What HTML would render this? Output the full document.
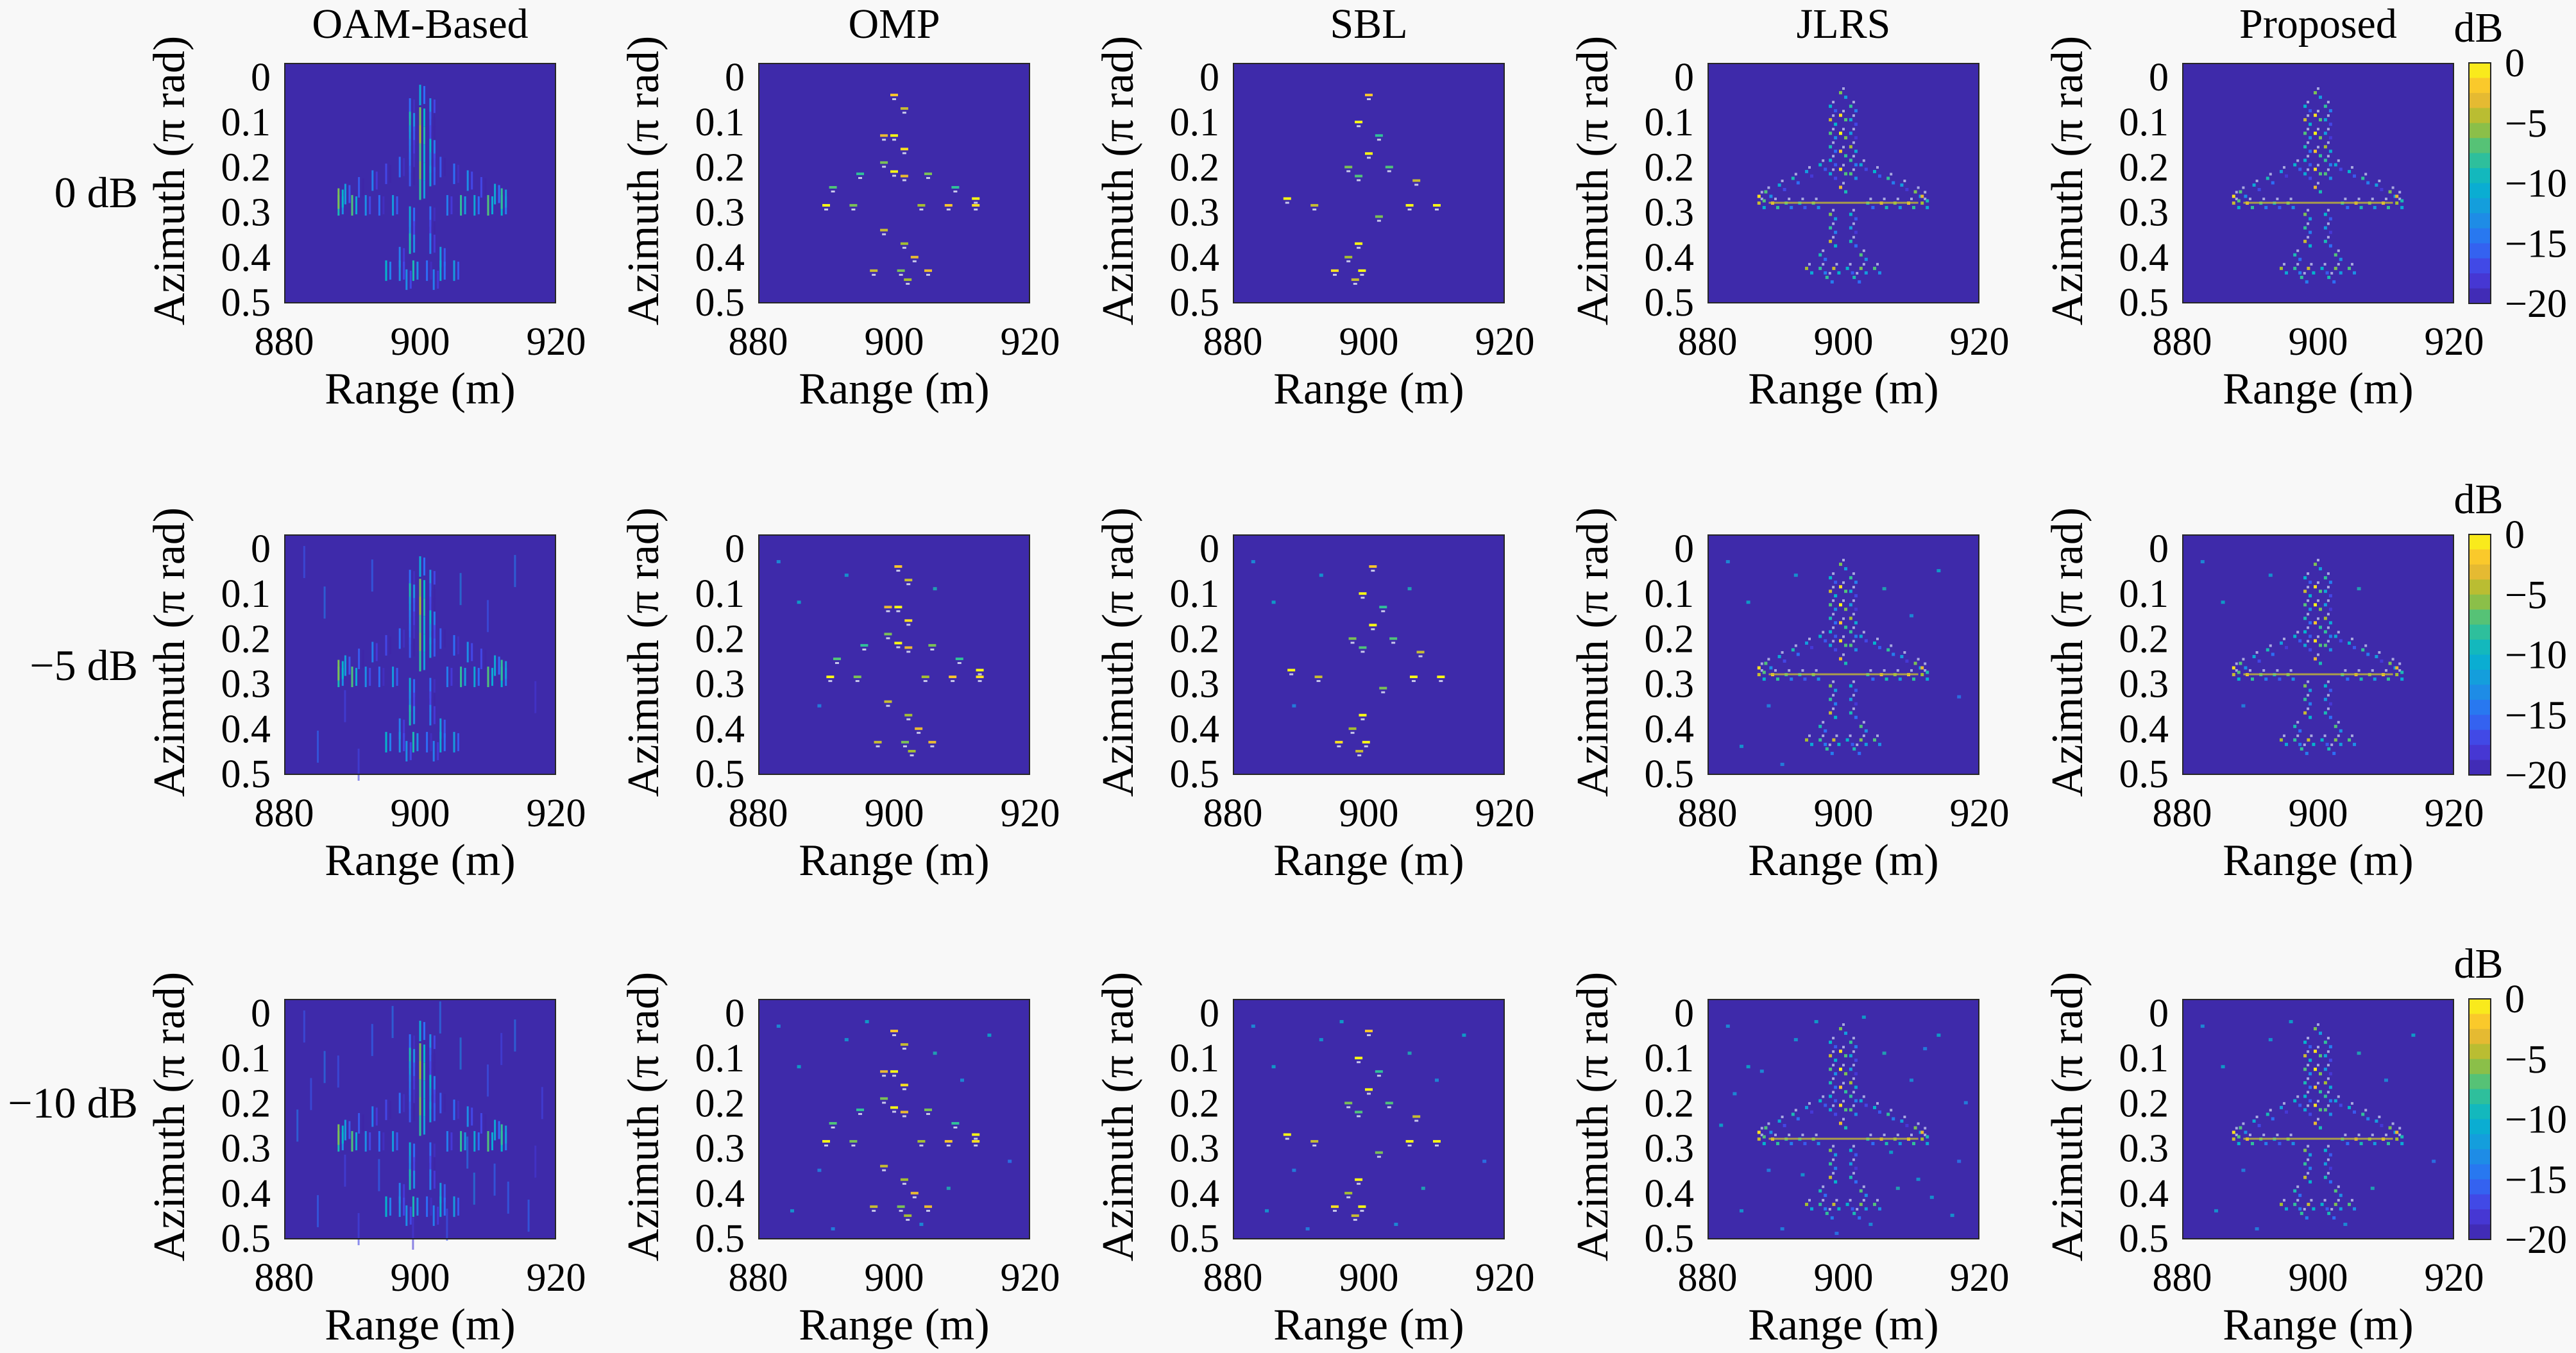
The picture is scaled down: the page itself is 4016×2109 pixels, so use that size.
<!DOCTYPE html>
<html><head><meta charset="utf-8"><style>
html,body{margin:0;padding:0;background:#f8f8f8;}
svg{display:block;}
svg text{font-family:"Liberation Serif","DejaVu Serif",serif;}
</style></head><body>
<svg id="fig" width="4016" height="2109" viewBox="0 0 4016 2109" xmlns="http://www.w3.org/2000/svg" font-family="Liberation Serif, DejaVu Serif, serif">
<rect width="4016" height="2109" fill="#f8f8f8"/>
</svg>
<script>
const methods = ['OAM-Based','OMP','SBL','JLRS','Proposed'];
const snrRows = ['0 dB','\u22125 dB','\u221210 dB'];
const xTicks = [880,900,920];
const yTicks = [0,0.1,0.2,0.3,0.4,0.5];
const cbTicks = [0,-5,-10,-15,-20];
const planeRange = [900, 898.5,901.5,898.5,901.5,898.5,901.5,898.5,901.5,898.5,901.5,898.5,901.5,898.5,901.5,898.5,901.5,898.5,901.5,
 900,900,900,900,900, 897,895,893,891,889,903,905,907,909,911,
 888,890,892,894,896,904,906,908,910,912, 888,912, 897,903, 895,897,899,901,903,905, 898,902];
const planeAz = [0.04, 0.07,0.07,0.10,0.10,0.13,0.13,0.16,0.16,0.19,0.19,0.22,0.22,0.31,0.31,0.34,0.34,0.37,0.37,
 0.09,0.13,0.17,0.21,0.25, 0.20,0.215,0.23,0.245,0.26,0.20,0.215,0.23,0.245,0.26,
 0.285,0.285,0.285,0.285,0.285,0.285,0.285,0.285,0.285,0.285, 0.27,0.27, 0.40,0.40, 0.43,0.43,0.43,0.43,0.43,0.43, 0.45,0.45];
const planeDb = [-8, -12,-10,-6,-13,-9,-14,-11,-7,-12,-10,-13,-9,-8,-12,-10,-14,-6,-11,
 -3,-2,-4,-3,-5, -12,-14,-11,-13,-9,-13,-12,-10,-14,-8,
 -6,-4,-10,-12,-9,-11,-5,-8,-4,-7, -3,-5, -11,-9, -7,-10,-6,-12,-8,-9, -10,-11];
const ompIdx = [0,2,5,8,9,12,15,18,20,22,25,27,30,32,35,37,39,41,43,45,47,49,51,53,55];
const sblIdx = [0,3,6,11,14,17,21,24,29,31,36,40,42,44,46,48,50,54];
const noiseRange = [883,886,889,893,906,910,914,917,885,891,896,904,908,913,918,882,888,894,899,907,912,916,884,903,911];
const noiseAz = [0.03,0.12,0.35,0.06,0.09,0.15,0.05,0.33,0.44,0.48,0.02,0.47,0.39,0.41,0.20,0.25,0.13,0.36,0.49,0.31,0.08,0.45,0.18,0.01,0.37];
const noiseDb = [-14,-12,-15,-13,-11,-14,-12,-16,-13,-15,-12,-14,-11,-13,-15,-12,-14,-13,-16,-12,-15,-13,-14,-12,-13];
const rowNoise = [0, 10, 25];

const NS = 'http://www.w3.org/2000/svg';
const svg = document.getElementById('fig');
const colX = [443,1182,1922,2662,3402];
const rowY = [98,833,1557];
const W = 424, H = 375;
const FONT = '"Liberation Serif","DejaVu Serif",serif';
const stops = [[-20,[62,38,168]],[-17.5,[72,60,225]],[-15,[45,110,245]],[-12.5,[25,150,225]],[-10,[5,180,205]],[-7.5,[60,195,140]],[-5,[165,190,50]],[-2.5,[250,185,50]],[0,[249,250,20]]];
function parula(d){
  d=Math.max(-20,Math.min(0,d));
  for(let i=0;i<stops.length-1;i++){
    const a=stops[i],b=stops[i+1];
    if(d>=a[0]&&d<=b[0]){const t=(d-a[0])/(b[0]-a[0]);
      return 'rgb('+a[1].map((v,k)=>Math.round(v+(b[1][k]-v)*t)).join(',')+')';}
  }
  return 'rgb(62,38,168)';
}
function el(tag, attrs, parent){
  const e=document.createElementNS(NS,tag);
  for(const k in attrs) e.setAttribute(k,attrs[k]);
  (parent||svg).appendChild(e); return e;
}
function txt(s, attrs, parent){ const t=el('text',attrs,parent); t.setAttribute('style','font-family:'+FONT); t.textContent=s; return t; }
function xs(c,r){ return colX[c]+(r-880)/40*W; }
function ys(row,a){ return rowY[row]+22+a*702; }

for(let row=0; row<3; row++){
  const rl = txt(snrRows[row], {x:215, y:[323,1060,1742][row], 'font-size':68, 'text-anchor':'end', fill:'#000'});
  
  
  for(let c=0; c<5; c++){
    const g = el('g', {});
    
    
    const bg = el('rect', {x:colX[c], y:rowY[row], width:W, height:H, fill:'rgb(62,42,170)'}, g);
    
    
    const marks = el('g', {}, g);
    
    
    const nn = (c===0||c===3) ? rowNoise[row] : Math.round(rowNoise[row]/2);
    for(let i=0;i<nn;i++){
      const x=xs(c,noiseRange[i]), y=ys(row,noiseAz[i]);
      const r = (c===0) ? el('rect',{x:x-2,y:y-25,width:3,height:50,fill:parula(noiseDb[i]-2),opacity:0.6},marks)
                        : el('rect',{x:x-3,y:y-3,width:6,height:5,fill:parula(noiseDb[i]+2),opacity:0.8},marks);
      
      
    }
    if(c===0){
      for(let i=0;i<planeRange.length;i++){
        const x=xs(c,planeRange[i]), y=ys(row,planeAz[i]);
        const a = el('rect',{x:x-1.5,y:y-16,width:3,height:32,fill:parula(planeDb[i]-3)},marks);
        
        
        const b = el('rect',{x:x+5,y:y-14,width:3,height:28,fill:parula(planeDb[i]-7)},marks);
        
        
      }
    } else if(c===1||c===2){
      const idx = c===1 ? ompIdx : sblIdx;
      for(const i of idx){
        const x=xs(c,planeRange[i]+(row%2?0.6:0)), y=ys(row,planeAz[i]);
        const d = el('rect',{x:x-6,y:y-2,width:12,height:4,fill:parula(planeDb[i]+6)},marks);
        
        
        const e = el('rect',{x:x-3,y:y+5,width:6,height:3,fill:'#c8c8ea'},marks);
        
        
      }
    } else {
      for(let i=0;i<planeRange.length;i++){
        const x=xs(c,planeRange[i]), y=ys(row,planeAz[i]);
        const a = el('rect',{x:x-7,y:y-6,width:5,height:5,fill:parula(planeDb[i]+2)},marks);
        
        
        const b = el('rect',{x:x+1,y:y+1,width:5,height:5,fill:parula(planeDb[i]-4)},marks);
        
        
        const w = el('rect',{x:x-2,y:y-12,width:4,height:4,fill:'#a8a8e0'},marks);
        
        
      }
      const line = el('rect',{x:xs(c,889),y:ys(row,0.28)-2,width:xs(c,911)-xs(c,889),height:3,fill:parula(-4),opacity:0.8},marks);
      
      
    }
    const frame = el('rect', {x:colX[c]+1, y:rowY[row]+1, width:W-2, height:H-2, fill:'none', stroke:'#262626', 'stroke-width':2}, g);
    
    
    for(const v of yTicks){
      const t = txt(String(v), {x:colX[c]-21, y:ys(row,v*1)+21, 'font-size':62, 'text-anchor':'end', fill:'#000'}, g);
      
      
    }
    for(const v of xTicks){
      const t = txt(String(v), {x:xs(c,v), y:rowY[row]+455, 'font-size':62, 'text-anchor':'middle', fill:'#000'}, g);
      
      
    }
    const xl = txt('Range (m)', {x:colX[c]+W/2, y:rowY[row]+531, 'font-size':70, 'text-anchor':'middle', fill:'#000'}, g);
    
    
    const cy = rowY[row]+H/2-4;
    const yl = txt('Azimuth (\u03c0 rad)', {x:0, y:0, 'font-size':70, 'text-anchor':'middle', fill:'#000', transform:'translate('+(colX[c]-156)+','+cy+') rotate(-90)'}, g);
    
    
    if(row===0){
      const tt = txt(methods[c], {x:colX[c]+W/2, y:59, 'font-size':66, 'text-anchor':'middle', fill:'#000'}, g);
      
      
    }
  }
  const cb = el('g', {});
  
  
  const n = 16, cbx = 3849, cbw = 34, top = rowY[row];
  for(let k=0;k<n;k++){
    const s = el('rect',{x:cbx, y:top+H*k/n, width:cbw, height:H/n+0.6, fill:parula(-20*(k+0.5)/n)}, cb);
    
    
  }
  const cf = el('rect',{x:cbx, y:top, width:cbw, height:H, fill:'none', stroke:'#262626','stroke-width':2}, cb);
  
  
  for(const v of cbTicks){
    const y = top + (-v/20)*H;
    const t = txt(v===0?'0':'\u2212'+(-v), {x:3905, y:y+21, 'font-size':62, 'text-anchor':'start', fill:'#000'}, cb);
    
    
  }
  const db = txt('dB', {x:3864, y:top-33, 'font-size':66, 'text-anchor':'middle', fill:'#000'}, cb);
  
  
}
</script>
</body></html>
